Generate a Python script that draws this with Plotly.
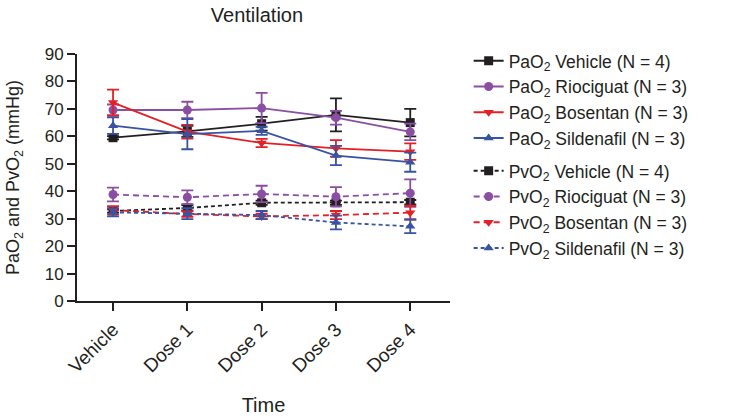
import plotly.graph_objects as go

categories = ["Vehicle", "Dose 1", "Dose 2", "Dose 3", "Dose 4"]

pao2_vehicle = [59.5, 61.8, 64.6, 67.8, 65.0]
pao2_vehicle_err = [0.6, 2.0, 2.5, 6.0, 5.0]
pao2_rioc = [69.6, 69.6, 70.3, 66.8, 61.6]
pao2_rioc_err = [2.0, 3.0, 5.5, 2.5, 3.0]
pao2_bos = [72.3, 61.7, 57.6, 55.6, 54.4]
pao2_bos_err = [4.7, 2.5, 1.5, 3.0, 3.0]
pao2_sild = [63.9, 60.8, 62.0, 53.0, 50.6]
pao2_sild_err = [3.0, 5.5, 1.5, 3.5, 3.5]

pvo2_vehicle = [32.8, 33.9, 35.8, 35.8, 36.0]
pvo2_vehicle_err = [0.6, 1.0, 0.8, 0.8, 0.8]
pvo2_rioc = [38.8, 37.8, 39.0, 38.0, 39.3]
pvo2_rioc_err = [2.5, 2.5, 3.0, 3.5, 5.0]
pvo2_bos = [33.1, 31.7, 30.8, 31.3, 32.2]
pvo2_bos_err = [1.5, 1.0, 1.0, 1.5, 2.5]
pvo2_sild = [32.3, 31.8, 31.3, 28.6, 27.2]
pvo2_sild_err = [1.5, 2.0, 1.5, 2.5, 2.5]

y_ticks = [0, 10, 20, 30, 40, 50, 60, 70, 80, 90]

black = "#231f20"
purple = "#8a4ea3"
red = "#e41f26"
blue = "#3953a4"

series = [
    ("PaO<sub>2</sub> Vehicle (N = 4)", pao2_vehicle, pao2_vehicle_err, black, "square", "solid", "pa"),
    ("PaO<sub>2</sub> Riociguat (N = 3)", pao2_rioc, pao2_rioc_err, purple, "circle", "solid", "pa"),
    ("PaO<sub>2</sub> Bosentan (N = 3)", pao2_bos, pao2_bos_err, red, "triangle-down", "solid", "pa"),
    ("PaO<sub>2</sub> Sildenafil (N = 3)", pao2_sild, pao2_sild_err, blue, "triangle-up", "solid", "pa"),
    ("PvO<sub>2</sub> Vehicle (N = 4)", pvo2_vehicle, pvo2_vehicle_err, black, "square", "4px,3px", "pv"),
    ("PvO<sub>2</sub> Riociguat (N = 3)", pvo2_rioc, pvo2_rioc_err, purple, "circle", "6px,4px", "pv"),
    ("PvO<sub>2</sub> Bosentan (N = 3)", pvo2_bos, pvo2_bos_err, red, "triangle-down", "6px,4px", "pv"),
    ("PvO<sub>2</sub> Sildenafil (N = 3)", pvo2_sild, pvo2_sild_err, blue, "triangle-up", "4px,3px", "pv"),
]

fig = go.Figure()
for name, vals, errs, color, sym, dash, grp in series:
    fig.add_trace(go.Scatter(
        x=categories, y=vals, name=name, mode="lines+markers",
        legendgroup=grp,
        line=dict(color=color, width=1.8, dash=dash),
        marker=dict(color=color, symbol=sym, size=9),
        error_y=dict(type="data", array=errs, visible=True, color=color,
                     thickness=1.8, width=6),
    ))

font = "Liberation Sans, Arial, sans-serif"
fig.update_layout(
    template="none",
    width=730, height=416,
    margin=dict(l=77, r=280, t=54, b=115),
    paper_bgcolor="white", plot_bgcolor="white",
    font=dict(family=font, size=18, color="#231f20"),
    title=dict(text="Ventilation", x=0.352, xanchor="center", y=0.964, yanchor="middle",
               font=dict(size=20)),
    showlegend=True,
    legend=dict(x=1.05, y=1.045, xanchor="left", yanchor="top",
                tracegroupgap=7, itemwidth=30, maxheight=400,
                font=dict(size=17.5), bgcolor="rgba(0,0,0,0)"),
    xaxis=dict(
        type="category", range=[-0.485, 4.535], automargin=False,
        showline=True, linecolor="#231f20", linewidth=2,
        ticks="outside", ticklen=8, tickwidth=2, tickcolor="#231f20",
        tickangle=-45, showgrid=False, zeroline=False,
        tickfont=dict(size=19),
        title=dict(text="Time", standoff=23, font=dict(size=20)),
    ),
    yaxis=dict(
        range=[0, 90], tickvals=y_ticks, automargin=False,
        showline=True, linecolor="#231f20", linewidth=2,
        ticks="outside", ticklen=8, tickwidth=2, tickcolor="#231f20",
        showgrid=False, zeroline=False,
        tickfont=dict(size=17),
        title=dict(text="PaO<sub>2</sub> and PvO<sub>2</sub> (mmHg)", standoff=20, font=dict(size=18)),
    ),
)

fig.write_html("out.html", config={"displayModeBar": False},
               post_script="document.body.style.margin='0';")
